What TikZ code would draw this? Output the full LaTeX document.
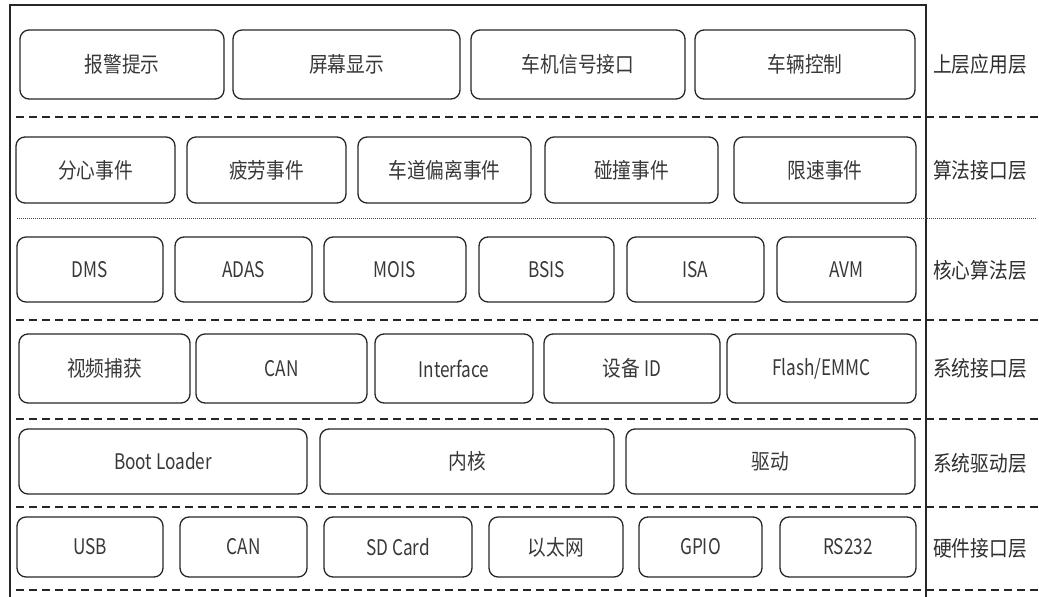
\documentclass[tikz,border=0pt]{standalone}
\usepackage{fontspec}
\setmainfont{Noto Sans CJK SC}[FakeStretch=0.87]
\newfontfamily\latinfont{Noto Sans CJK SC}[FakeStretch=0.8]
\begin{document}
\begin{tikzpicture}[x=1pt,y=-1pt,
  box/.style={draw=black!85, line width=1.3pt, rounded corners=9pt, inner sep=0pt,
    font=\fontsize{21.5}{24}\selectfont, text=black!78},
  lat/.style={font=\fontsize{21.5}{24}\selectfont\latinfont},
  lbl/.style={font=\fontsize{21.5}{24}\selectfont, text=black!82, inner sep=0pt},
  frame/.style={draw=black!85, line width=1.3pt},
  sepdash/.style={draw=black!85, line width=1.5pt, dash pattern=on 8pt off 5pt},
  sepdot/.style={draw=black!70, line width=1pt, dash pattern=on 1pt off 1pt}]
\newcommand\mybox[7][]{\node[box,#1,minimum width={(#4-#3)*1pt},minimum height={(#6-#5)*1pt}] (#2) at ({(#3+#4)/2},{(#5+#6)/2}) {#7};}
\useasboundingbox (0,0) rectangle (1039,597);
% frame
\draw[frame] (10,597) -- (10,5) -- (926,5) -- (926,597);
% separators
\draw[sepdash] (16,117) -- (1039,117);
\draw[sepdot] (17,218) -- (1036,218);
\draw[sepdash] (16,320) -- (1039,320);
\draw[sepdash] (16,419) -- (1039,419);
\draw[sepdash] (16,507) -- (1039,507);
\draw[sepdash] (16,590) -- (1039,590);
% row 1
\mybox{a1}{20}{224}{30}{99}{报警提示}
\mybox{a2}{233}{460}{30}{99}{屏幕显示}
\mybox{a3}{471}{685}{30}{99}{车机信号接口}
\mybox{a4}{695}{915}{30}{99}{车辆控制}
% row 2
\mybox{b1}{16}{175}{137}{203}{分心事件}
\mybox{b2}{187}{346}{137}{203}{疲劳事件}
\mybox{b3}{358}{531}{137}{203}{车道偏离事件}
\mybox{b4}{545}{718}{137}{203}{碰撞事件}
\mybox{b5}{734}{916}{137}{203}{限速事件}
% row 3
\mybox[lat]{c1}{17}{163}{237}{302}{DMS}
\mybox[lat]{c2}{175}{312}{237}{302}{ADAS}
\mybox[lat]{c3}{324}{466}{237}{302}{MOIS}
\mybox[lat]{c4}{479}{614}{237}{302}{BSIS}
\mybox[lat]{c5}{627}{764}{237}{302}{ISA}
\mybox[lat]{c6}{777}{916}{237}{302}{AVM}
% row 4
\mybox{d1}{19}{190}{334}{403}{视频捕获}
\mybox[lat]{d2}{196}{367}{334}{403}{CAN}
\mybox[lat]{d3}{375}{533}{334}{403}{Interface}
\mybox{d4}{544}{720}{334}{403}{设备 {\latinfont ID}}
\mybox[lat]{d5}{727}{916}{334}{403}{Flash/EMMC}
% row 5
\mybox[lat]{e1}{19}{307}{429}{494}{Boot Loader}
\mybox{e2}{320}{614}{429}{494}{内核}
\mybox{e3}{626}{915}{429}{494}{驱动}
% row 6
\mybox[lat]{f1}{17}{163}{517}{577}{USB}
\mybox[lat]{f2}{180}{307}{517}{577}{CAN}
\mybox[lat]{f3}{324}{472}{517}{577}{SD Card}
\mybox{f4}{489}{623}{517}{577}{以太网}
\mybox[lat]{f5}{639}{762}{517}{577}{GPIO}
\mybox[lat]{f6}{780}{916}{517}{577}{RS232}
% layer labels
\node[lbl] (l1) at (980,64) {上层应用层};
\node[lbl] (l2) at (980,170) {算法接口层};
\node[lbl] (l3) at (980,270) {核心算法层};
\node[lbl] (l4) at (980,368) {系统接口层};
\node[lbl] (l5) at (980,463) {系统驱动层};
\node[lbl] (l6) at (980,548) {硬件接口层};
\end{tikzpicture}
\end{document}
